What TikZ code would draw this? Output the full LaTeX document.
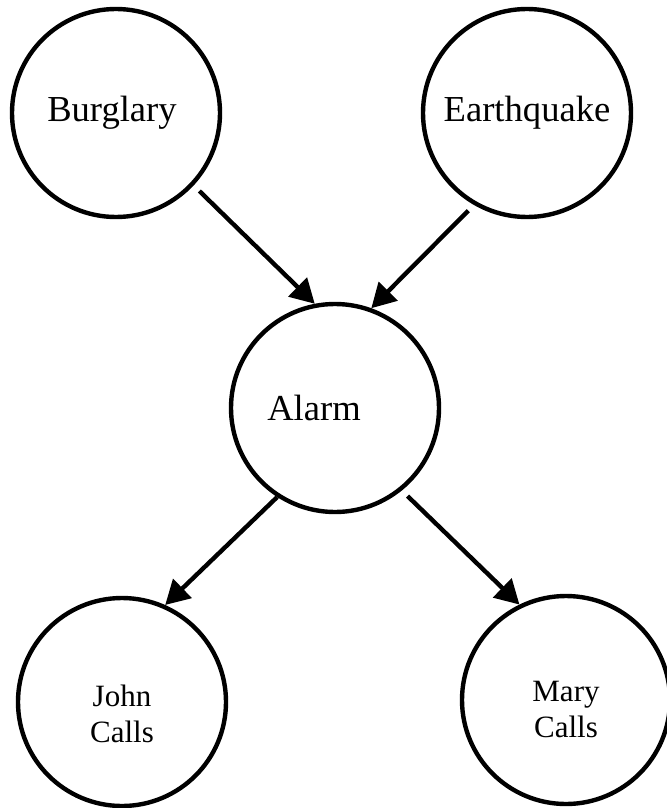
\documentclass[tikz,border=0pt]{standalone}
\usepackage{fontspec}
\setmainfont{Liberation Serif}
\usetikzlibrary{arrows.meta}

\begin{document}
\begin{tikzpicture}[x=0.5pt, y=-0.5pt,
  bnode/.style={draw, circle, line width=2.2pt, minimum size=104pt, inner sep=0pt,
                font=\fontsize{18.3}{22}\selectfont},
  callnode/.style={bnode, font=\fontsize{15.5}{18.3}\selectfont},
  arr/.style={line width=2.2pt, -{Triangle[length=12pt,width=13pt]}}]
\useasboundingbox (0,0) rectangle (666,808);

% causes
\node[bnode] (burglary) at (116,113) {Burglary\hspace*{4pt}};
\node[bnode] (earthquake) at (527,113) {Earthquake};
% middle
\node[bnode] (alarm) at (335,408) {Alarm\hspace*{21pt}};
% effects (text sits a little low in the circle)
\node[callnode] (john) at (122,702)
  {\raisebox{0pt}[\dimexpr\height+15pt\relax]{\begin{tabular}{@{}c@{}}John\\Calls\end{tabular}}};
\node[callnode] (mary) at (566,700)
  {\raisebox{0pt}[\dimexpr\height+12pt\relax]{\begin{tabular}{@{}c@{}}Mary\\Calls\end{tabular}}};

\draw[arr, shorten <=4pt] (burglary.-43) -- (alarm.101);
\draw[arr, shorten <=4pt] (earthquake.240) -- (alarm.70);
\draw[arr] (alarm.237) -- (john.66);
\draw[arr, shorten <=4pt] (alarm.-51) -- (mary.116);
\end{tikzpicture}
\end{document}
